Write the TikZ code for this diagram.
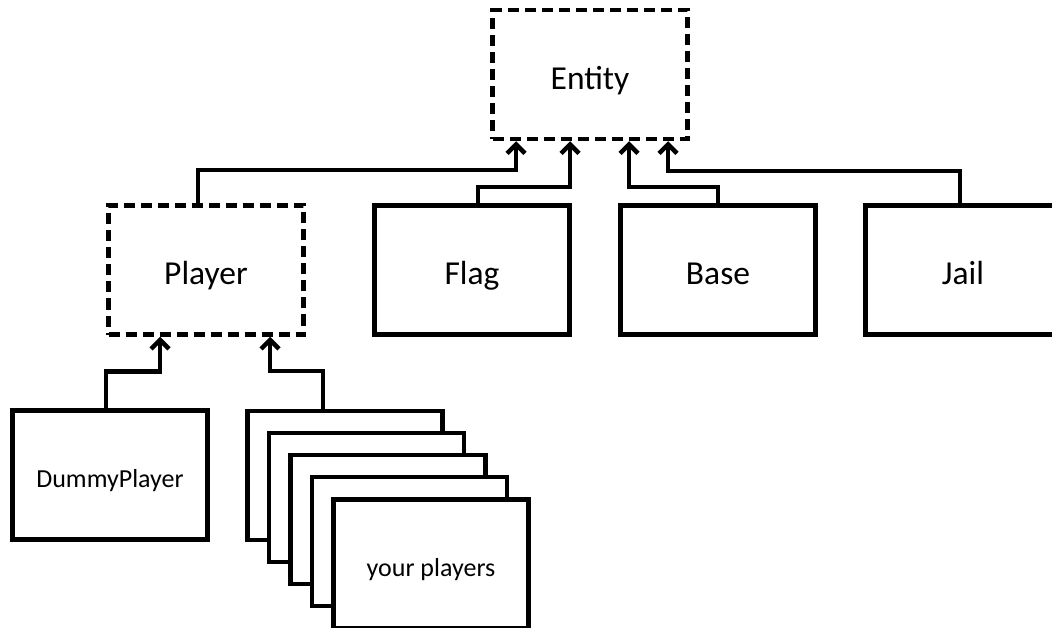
\documentclass[tikz,border=0pt]{standalone}
\usepackage{fontspec}
\setmainfont{Carlito}
\usetikzlibrary{arrows.meta}

\begin{document}
\begin{tikzpicture}[x=1pt,y=-1pt,
	box/.style={draw,line width=4.5pt,fill=white,minimum width=195pt,minimum height=129pt,inner sep=0pt,text height=38pt,text depth=8pt,font=\fontsize{33.5}{38}\selectfont},
	abstract/.style={box,dash pattern=on 11pt off 6pt},
	small/.style={text height=30pt,text depth=6pt,font=\fontsize{26}{30}\selectfont},
	link/.style={line width=4.5pt,-{Straight Barb[length=9pt,width=18pt]}}]
	\clip (0,0) rectangle (1052,628);
	% top level
	\node[abstract] (entity) at (590,74.5) {Entity};
	\node[abstract] (player) at (206,270) {Player};
	\node[box] (flag) at (472,270) {Flag};
	\node[box] (base) at (718,270) {Base};
	\node[box] (jail) at (963,270) {Jail};
	% players
	\node[box,small] (dummy) at (110,475) {DummyPlayer};
	\foreach \i in {0,...,3}
		\node[box] (mine\i) at (345+21.5*\i,475.5+22*\i) {};
	\node[box,small] (mine4) at (431,564) {your players};
	% connectors
	\draw[link] ([xshift=-8pt]player.north) -- ++(0,-33) -| ([xshift=-74pt]entity.south);
	\draw[link] ([xshift=6pt]flag.north) -- ++(0,-16) -| ([xshift=-20pt]entity.south);
	\draw[link] (base.north) -- ++(0,-16) -| ([xshift=39pt]entity.south);
	\draw[link] ([xshift=-3pt]jail.north) -- ++(0,-32) -| ([xshift=78pt]entity.south);
	\draw[link] ([xshift=-4pt]dummy.north) -- ++(0,-37) -| ([xshift=-46pt]player.south);
	\draw[link] ([xshift=-22pt]mine0.north) -- ++(0,-38) -| ([xshift=64pt]player.south);
\end{tikzpicture}
\end{document}
